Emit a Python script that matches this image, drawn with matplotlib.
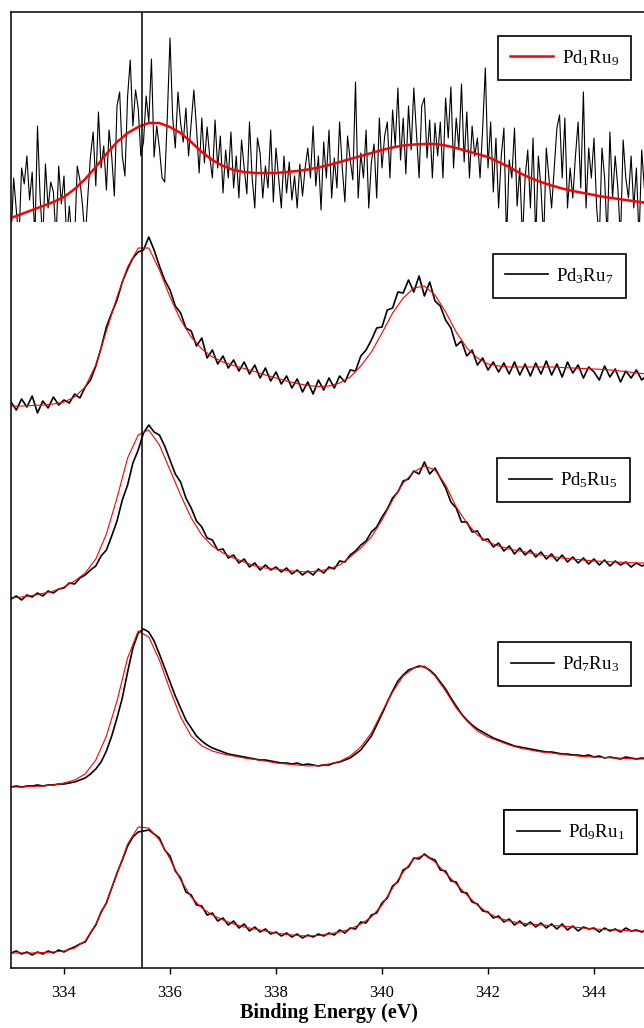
import numpy as np
import matplotlib
matplotlib.use("Agg")
import matplotlib.pyplot as plt
from matplotlib.patches import Rectangle

plt.rcParams['font.family'] = ['Liberation Serif', 'DejaVu Serif']
plt.rcParams['mathtext.default'] = 'regular'

# binding energy range (eV)
e_min, e_max = 333.0, 345.0
ref_line = 335.48

labels = ["Pd$_1$Ru$_9$", "Pd$_3$Ru$_7$", "Pd$_5$Ru$_5$", "Pd$_7$Ru$_3$", "Pd$_9$Ru$_1$"]

# measured spectra (stacked intensity, arb. units), top panel sampled at 0.05 eV, others at 0.1 eV
pd1ru9_data = [
    728, 790, 758, 728, 800, 784, 812, 768, 796, 728,
    842, 770, 728, 804, 760, 786, 776, 728, 802, 764,
    792, 728, 762, 728, 728, 802, 788, 762, 728, 772,
    812, 836, 782, 856, 800, 822, 778, 838, 812, 772,
    862, 876, 812, 792, 872, 908, 842, 878, 860, 812,
    826, 872, 846, 909, 811, 842, 820, 790, 786, 852,
    930, 851, 820, 876, 845, 826, 860, 812, 845, 878,
    840, 795, 850, 805, 841, 811, 790, 848, 800, 832,
    775, 818, 790, 836, 780, 812, 770, 828, 800, 774,
    846, 790, 760, 830, 815, 770, 802, 780, 838, 766,
    820, 790, 760, 812, 775, 806, 768, 792, 760, 804,
    772, 800, 820, 790, 842, 782, 812, 758, 826, 790,
    838, 770, 810, 780, 846, 800, 766, 832, 808, 788,
    886, 770, 815, 790, 838, 760, 806, 824, 770, 850,
    800, 832, 846, 790, 858, 822, 880, 808, 850, 794,
    862, 818, 880, 835, 790, 862, 870, 810, 848, 790,
    845, 812, 846, 790, 870, 830, 881, 800, 850, 820,
    884, 806, 856, 790, 842, 812, 830, 790, 840, 900,
    800, 846, 776, 830, 760, 812, 840, 728, 808, 790,
    840, 762, 800, 728, 790, 818, 760, 830, 728, 812,
    780, 728, 820, 790, 760, 800, 840, 853, 790, 850,
    760, 800, 770, 812, 846, 780, 876, 760, 820, 790,
    830, 760, 728, 820, 790, 728, 836, 770, 812, 780,
    728, 828, 790, 770, 812, 760, 800, 728, 818, 780,
    790]

pd3ru7_data = [
    566, 558, 569, 561, 572, 555, 567, 560, 571, 563,
    568, 565, 574, 570, 581, 588, 602, 620, 641, 655,
    668, 686, 699, 710, 716, 718, 731, 718, 702, 688,
    678, 662, 655, 640, 637, 622, 630, 610, 618, 604,
    612, 600, 608, 597, 606, 594, 603, 590, 600, 587,
    596, 584, 592, 580, 589, 576, 586, 574, 588, 578,
    590, 580, 592, 586, 598, 597, 612, 618, 628, 640,
    641, 658, 660, 676, 675, 688, 676, 692, 672, 686,
    667, 662, 648, 640, 622, 627, 612, 618, 603, 610,
    598, 606, 596, 605, 594, 606, 593, 604, 592, 605,
    594, 607, 593, 604, 591, 606, 595, 603, 590, 601,
    596, 588, 602, 591, 599, 586, 597, 590, 598, 588,
    593]

pd5ru5_data = [
    369, 372, 368, 373, 371, 375, 372, 377, 375, 379,
    380, 385, 384, 390, 393, 398, 402, 412, 418, 432,
    447, 468, 483, 505, 518, 535, 543, 536, 533, 522,
    508, 494, 486, 470, 460, 447, 441, 430, 428, 418,
    419, 410, 413, 405, 409, 401, 405, 398, 403, 398,
    401, 396, 400, 394, 398, 393, 397, 393, 399, 395,
    401, 399, 407, 406, 413, 417, 423, 427, 436, 441,
    451, 459, 470, 476, 487, 489, 497, 494, 506, 494,
    500, 490, 480, 466, 460, 446, 446, 436, 437, 428,
    429, 421, 425, 417, 422, 414, 420, 413, 418, 411,
    416, 409, 414, 407, 413, 406, 411, 405, 410, 404,
    409, 403, 408, 402, 407, 403, 406, 401, 405, 402,
    404]

pd7ru3_data = [
    181, 182, 181, 182, 182, 183, 182, 183, 183, 184,
    184, 185, 186, 188, 190, 194, 199, 206, 217, 232,
    250, 270, 296, 320, 335, 339, 336, 327, 314, 300,
    286, 272, 260, 248, 240, 232, 227, 223, 220, 218,
    216, 214, 213, 212, 211, 210, 209, 208, 208, 207,
    206, 205, 205, 204, 205, 203, 204, 203, 202, 203,
    203, 205, 206, 208, 210, 214, 218, 225, 232, 243,
    254, 266, 277, 287, 293, 298, 300, 302, 301, 298,
    293, 286, 279, 270, 262, 254, 248, 243, 239, 236,
    233, 230, 228, 226, 224, 222, 221, 220, 219, 218,
    217, 216, 216, 215, 214, 214, 213, 213, 212, 213,
    211, 212, 210, 211, 210, 209, 211, 210, 209, 210,
    209]

pd9ru1_data = [
    15, 17, 14, 16, 13, 16, 14, 17, 15, 18,
    16, 19, 21, 24, 26, 35, 43, 56, 65, 80,
    95, 108, 122, 131, 136, 137, 138, 134, 130, 118,
    112, 97, 90, 76, 73, 63, 62, 53, 55, 47,
    50, 43, 47, 40, 44, 37, 41, 36, 39, 34,
    36, 32, 35, 31, 34, 30, 33, 31, 34, 32,
    35, 33, 38, 35, 40, 39, 46, 45, 53, 55,
    65, 70, 82, 86, 98, 101, 110, 109, 114, 110,
    108, 98, 97, 87, 86, 76, 75, 66, 64, 57,
    56, 50, 52, 46, 49, 43, 47, 42, 46, 41,
    45, 40, 44, 39, 44, 38, 42, 37, 41, 39,
    40, 36, 40, 37, 39, 36, 40, 37, 38, 36,
    38]

# fitted curves, sampled every 0.2 eV
pd1ru9_fit = [750, 754, 758, 762, 766, 771, 779, 789, 801, 814,
              826, 835, 841, 845, 845, 841, 835, 826, 816, 808,
              802, 798, 796, 795, 795, 795, 796, 797, 798.5, 800.5,
              803, 806, 809, 812, 815, 818, 820.5, 822.5, 823.5, 824,
              824, 822.5, 820, 817, 814, 811, 806, 801, 795, 790,
              786, 782.5, 779.5, 777, 775, 773, 771, 769.5, 768, 766.5,
              765]
pd3ru7_fit = [562, 562, 562.5, 563, 564, 566, 571, 581, 603, 637,
              671, 701, 720, 720, 698, 671, 648, 631, 619, 611,
              606, 602.5, 599.5, 596.5, 593, 590, 587, 584.5, 582.5, 581.5,
              582, 585, 591, 602, 616, 635, 655, 670, 680, 682,
              673, 656, 636, 620, 610, 604, 602, 601, 601, 601,
              601, 601, 600.5, 600, 599.5, 599, 598.5, 597.5, 596.5, 595,
              594]
pd5ru5_fit = [370, 371, 372.5, 374.5, 377, 381, 387, 395, 409, 434,
              470, 510, 533, 538, 523, 498, 473, 450, 433, 422,
              415, 410, 406, 402, 400, 399, 397.5, 396.5, 396, 397,
              399, 403, 411, 420, 431, 448, 468, 485, 496, 502,
              498, 483, 461, 445, 433, 426, 422, 419, 417, 415,
              413, 411.5, 410, 409, 408, 407, 406.5, 406, 405.5, 405,
              405]
pd7ru3_fit = [181, 181, 181.5, 182, 183, 185, 188, 194, 208, 232,
              267, 310, 337, 331, 308, 278, 251, 232, 222, 217,
              214, 212, 210, 208.5, 207, 205, 204, 203, 202, 202.5,
              204, 206.5, 212, 221, 235, 256, 276, 292, 300, 302,
              292, 277, 260, 247, 237, 231, 227, 223, 220, 218,
              216, 215, 213.5, 212.5, 211.5, 211, 210.5, 210, 209.5, 209,
              209]
pd9ru1_fit = [15, 15, 15, 15.5, 16, 17, 20, 27, 44, 66,
              94, 124, 141, 140, 128, 109, 88, 71, 60, 53,
              48, 44, 41, 39, 37, 35, 33.5, 32.5, 32, 32.5,
              34, 36, 39, 44, 51, 63, 80, 96, 109, 113,
              106, 95, 84, 73, 63, 55, 50, 47, 45, 44,
              43, 42.5, 42, 41, 40, 39, 38.5, 38, 37.5, 37,
              37]

data_sets = [pd1ru9_data, pd3ru7_data, pd5ru5_data, pd7ru3_data, pd9ru1_data]
fit_sets = [pd1ru9_fit, pd3ru7_fit, pd5ru5_fit, pd7ru3_fit, pd9ru1_fit]
top_floor = 746  # noisy top trace is cut off below this level

# legend box centres in axes fraction
legend_pos = [(0.870, 0.952), (0.862, 0.724), (0.868, 0.510), (0.871, 0.318), (0.880, 0.142)]

fig = plt.figure(figsize=(6.44, 10.28), dpi=100)
ax = fig.add_axes([11 / 644, 60 / 1028, 636 / 644, 956 / 1028])

for i in range(len(data_sets)):
    y = data_sets[i]
    yf = fit_sets[i]
    x = np.linspace(e_min, e_max, len(y))
    xf = np.linspace(e_min, e_max, len(yf))
    if i == 0:
        l_data, = ax.plot(x, y, color="black", lw=0.8)
        l_data.set_clip_path(Rectangle((e_min, top_floor), e_max - e_min, 400,
                                       transform=ax.transData))
        l_fit, = ax.plot(xf, yf, color="red", lw=1.8)
        handle = l_fit
    else:
        l_data, = ax.plot(x, y, color="black", lw=1.2)
        l_fit, = ax.plot(xf, yf, color="red", lw=0.8)
        handle = l_data
    leg = ax.legend([handle], [labels[i]], loc="center", bbox_to_anchor=legend_pos[i],
                    fontsize=13.5, fancybox=False, framealpha=1, edgecolor="black",
                    borderpad=0.65, handlelength=2.3, handletextpad=0.45)
    leg.get_frame().set_linewidth(1.2)
    ax.add_artist(leg)

ax.axvline(ref_line, color="black", lw=1.1)

ax.set_xlim(e_min, e_max)
ax.set_ylim(0, 956)
ax.set_yticks([])
ax.set_xticks([334, 336, 338, 340, 342, 344])
ax.tick_params(axis="x", direction="out", length=4, width=1, labelsize=12, pad=8)
for s in ax.spines.values():
    s.set_linewidth(1.1)
ax.set_xlabel("Binding Energy (eV)", fontsize=14.5, fontweight="bold", labelpad=2)

fig.savefig("out.png", dpi=100)
